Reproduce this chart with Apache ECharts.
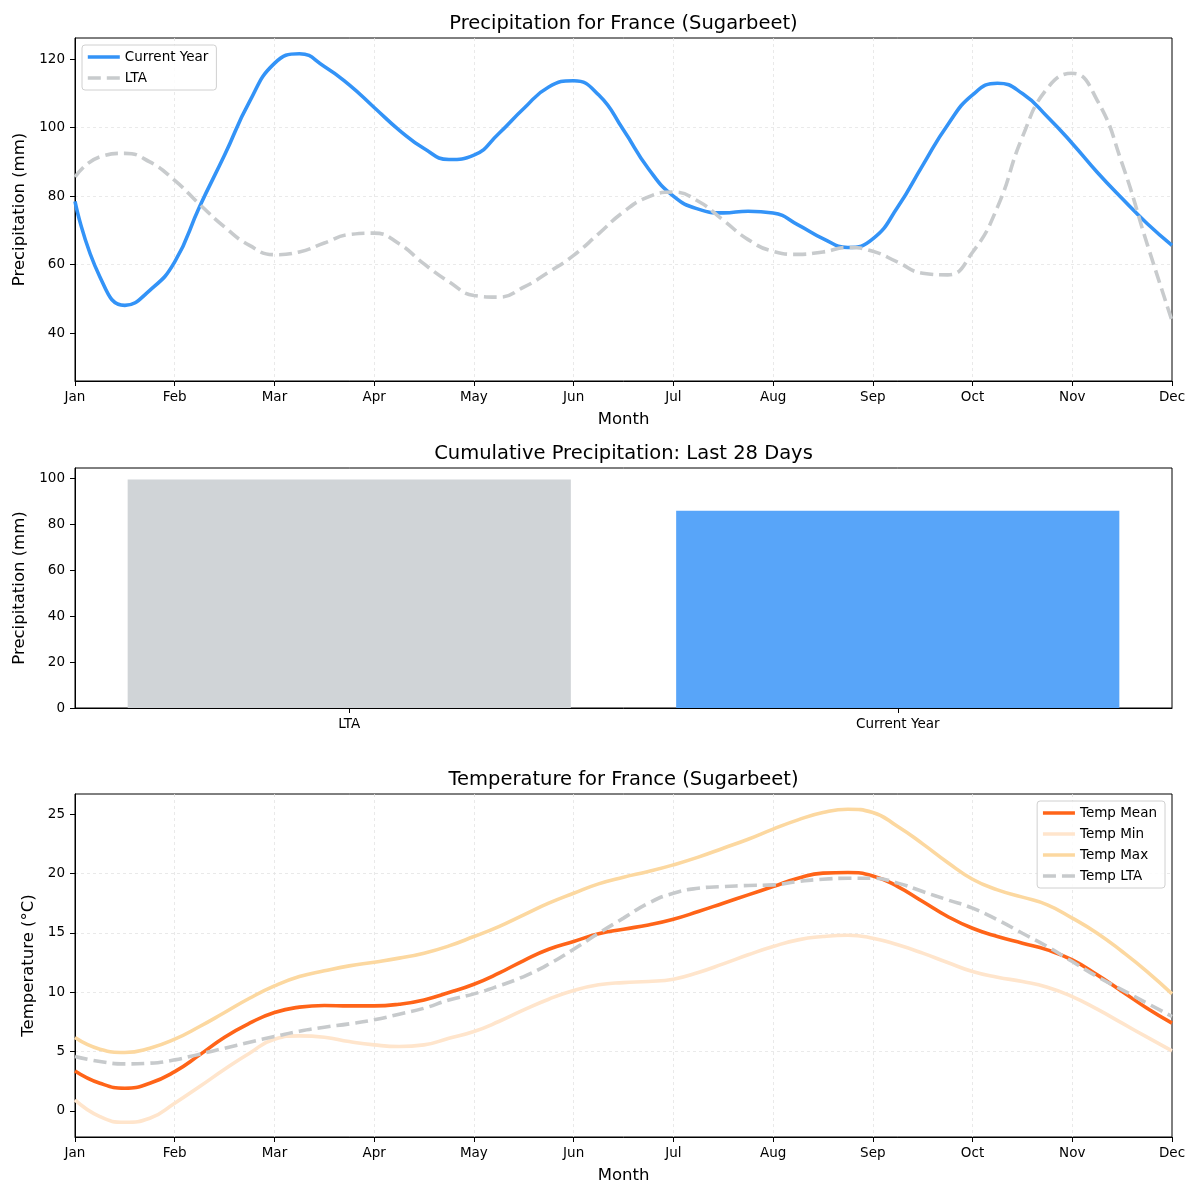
<!DOCTYPE html>
<html>
<head>
<meta charset="utf-8">
<script src="https://cdn.jsdelivr.net/npm/echarts@6/dist/echarts.min.js"></script>
<style>html,body{margin:0;padding:0;background:#fff}#c{width:1200px;height:1200px}</style>
</head>
<body>
<div id="c"></div>
<script>
const monthLabels = ['Jan','Feb','Mar','Apr','May','Jun','Jul','Aug','Sep','Oct','Nov','Dec'];

// Curves at quarter-month positions
const months = [1,1.25,1.5,1.75,2,2.25,2.5,2.75,3,3.25,3.5,3.75,4,4.25,4.5,4.75,5,5.25,5.5,5.75,6,6.25,6.5,6.75,7,7.25,7.5,7.75,8,8.25,8.5,8.75,9,9.25,9.5,9.75,10,10.25,10.5,10.75,11,11.25,11.5,11.75,12];

const precipCurrent = [78.5,56.4,48.1,52.5,60.8,77,92,107.6,118.8,121.6,117.9,112.5,105.9,99.3,93.9,90.7,92,98.3,105.6,111.9,113.7,109.6,99.3,88,80,76.2,75.1,75.6,75.1,71.6,67.6,65,67.5,76.8,89,100.8,109.6,113,110,103.2,95.4,87,79.3,72,65.6];
const precipLTA = [85.6,91.5,92.5,90,84.6,77.6,71,65.6,62.9,63.7,66.3,68.8,69.2,66.1,60.2,55,51,50.5,53.4,57.8,62.7,69,75.4,79.8,81.2,78.5,73,67.3,63.9,63,63.7,65,63.9,60.7,57.5,57,63.6,76.8,97.3,111.5,115.9,108,89.5,66.1,43.6];
const precipTicks = [40,60,80,100,120];

// Cumulative precipitation (last 28 days)
const cumCategories = ['LTA','Current Year'];
const cumValues = [99.4,85.8];
const cumTicks = [0,20,40,60,80,100];

const tempMean = [3.37,2.33,1.91,2.33,3.31,4.72,6.21,7.39,8.29,8.74,8.88,8.85,8.85,8.99,9.35,9.97,10.67,11.6,12.67,13.62,14.27,14.92,15.31,15.67,16.15,16.8,17.5,18.2,18.9,19.6,20.03,20.08,19.8,18.9,17.64,16.38,15.39,14.69,14.13,13.57,12.72,11.46,10.06,8.65,7.39];
const tempMin = [0.93,-0.48,-0.96,-0.62,0.65,2.05,3.51,4.86,6.04,6.32,6.21,5.84,5.56,5.42,5.56,6.12,6.69,7.53,8.51,9.41,10.14,10.62,10.81,10.9,11.1,11.66,12.39,13.15,13.85,14.41,14.69,14.8,14.55,13.99,13.29,12.5,11.74,11.26,10.9,10.42,9.63,8.57,7.39,6.21,5.06];
const tempMax = [6.18,5.2,4.92,5.28,6.04,7.11,8.29,9.49,10.53,11.32,11.8,12.22,12.53,12.87,13.29,13.9,14.69,15.53,16.52,17.5,18.34,19.13,19.69,20.17,20.73,21.38,22.13,22.89,23.74,24.52,25.14,25.42,25.14,23.96,22.5,20.93,19.52,18.62,18.01,17.36,16.24,14.97,13.43,11.74,9.86];
const tempLTA = [4.58,4.16,3.96,4.02,4.3,4.78,5.28,5.79,6.26,6.71,7.05,7.33,7.67,8.15,8.65,9.35,9.86,10.53,11.32,12.36,13.62,14.97,16.24,17.5,18.34,18.76,18.9,18.99,19.04,19.33,19.52,19.6,19.6,19.19,18.48,17.78,17.08,16.1,14.97,13.85,12.58,11.32,10.2,9.07,7.95];
const tempTicks = [0,5,10,15,20,25];

const FONT = 'DejaVu Sans';
const pairs = (xs, ys) => xs.map((x, i) => [x, ys[i]]);

const gridLine = {show: true, showMinLine: false, showMaxLine: false, lineStyle: {color: '#e4e4e4', width: 0.8, type: [3, 3]}};
const axisLineBlack = {show: true, onZero: false, lineStyle: {color: '#000', width: 1}};
const tickStyle = {show: true, length: 5, lineStyle: {color: '#000', width: 1}};
const labelBase = {color: '#000', fontSize: 13.5, fontFamily: FONT};

function monthAxis(gridIndex) {
  return {
    type: 'value', gridIndex, min: 1, max: 12, interval: 1,
    axisLine: axisLineBlack, axisTick: tickStyle,
    axisLabel: Object.assign({margin: 9, formatter: v => monthLabels[Math.round(v) - 1] || ''}, labelBase),
    splitLine: gridLine,
    name: 'Month', nameLocation: 'middle', nameGap: 30,
    nameTextStyle: {color: '#000', fontSize: 16.5, fontFamily: FONT}
  };
}

function valueAxis(gridIndex, min, max, ticks, name, nameGap, split) {
  return {
    type: 'value', gridIndex, min, max,
    axisLine: axisLineBlack,
    axisTick: Object.assign({customValues: ticks}, tickStyle),
    axisLabel: Object.assign({margin: 10, customValues: ticks}, labelBase),
    splitLine: split ? gridLine : {show: false},
    name, nameLocation: 'middle', nameGap,
    nameTextStyle: {color: '#000', fontSize: 16.5, fontFamily: FONT}
  };
}

const seriesColors = {
  current: '#3393f7', lta: '#c8cbcd',
  barLTA: '#d0d4d7', barCurrent: '#58a5f9',
  mean: '#ff6418', min: '#ffe5cc', max: '#fcd8a0', tlta: '#c7cacc'
};
const DASH = [13, 6];
const titleStyle = {fontFamily: FONT, fontWeight: 'normal', fontSize: 19.5, color: '#000'};
const legendBase = {
  orient: 'vertical', backgroundColor: 'rgba(255,255,255,0.85)', borderColor: '#d0d0d0', borderWidth: 1, borderRadius: 3,
  padding: [5, 8, 5, 4], itemWidth: 32, itemHeight: 14, itemGap: 7,
  itemStyle: {opacity: 0},
  lineStyle: {width: 3.6},
  textStyle: {fontFamily: FONT, fontSize: 13.5, color: '#000'}
};

function line(name, ys, color, dashed) {
  const idx = name.startsWith('Temp') ? 2 : 0;
  return {name, type: 'line', xAxisIndex: idx, yAxisIndex: idx,
    data: pairs(months, ys), smooth: 0.5, symbol: 'none', showSymbol: false, color,
    lineStyle: {width: 3.6, color, type: dashed ? DASH : 'solid'}};
}

const chart = echarts.init(document.getElementById('c'), null, {renderer: 'canvas'});
chart.setOption({
  backgroundColor: '#fff',
  animation: false,
  title: [
    {text: 'Precipitation for France (Sugarbeet)', left: 623.5, textAlign: 'center', top: 14, padding: 0, textStyle: titleStyle},
    {text: 'Cumulative Precipitation: Last 28 Days', left: 623.5, textAlign: 'center', top: 444, padding: 0, textStyle: titleStyle},
    {text: 'Temperature for France (Sugarbeet)', left: 623.5, textAlign: 'center', top: 770, padding: 0, textStyle: titleStyle}
  ],
  legend: [
    Object.assign({data: ['Current Year', 'LTA'], left: 82, top: 45}, legendBase),
    Object.assign({data: ['Temp Mean', 'Temp Min', 'Temp Max', 'Temp LTA'], right: 35, top: 801}, legendBase)
  ],
  grid: [
    {left: 75, right: 28, top: 38, height: 343, show: true, borderColor: '#000', borderWidth: 1},
    {left: 75, right: 28, top: 468, height: 240, show: true, borderColor: '#000', borderWidth: 1},
    {left: 75, right: 28, top: 794, height: 343, show: true, borderColor: '#000', borderWidth: 1}
  ],
  xAxis: [
    monthAxis(0),
    {type: 'category', gridIndex: 1, data: cumCategories,
     axisLine: axisLineBlack, axisTick: Object.assign({alignWithLabel: true}, tickStyle),
     axisLabel: Object.assign({margin: 9}, labelBase), splitLine: {show: false}},
    monthAxis(2)
  ],
  yAxis: [
    valueAxis(0, 26, 126.2, precipTicks, 'Precipitation (mm)', 42, true),
    valueAxis(1, 0, 104.4, cumTicks, 'Precipitation (mm)', 42, false),
    valueAxis(2, -2.2, 26.7, tempTicks, 'Temperature (°C)', 32, true)
  ],
  series: [
    line('Current Year', precipCurrent, seriesColors.current, false),
    line('LTA', precipLTA, seriesColors.lta, true),
    {name: 'Cumulative', type: 'bar', xAxisIndex: 1, yAxisIndex: 1, barWidth: '80.8%',
     data: cumValues.map((v, i) => ({value: v, itemStyle: {color: i === 0 ? seriesColors.barLTA : seriesColors.barCurrent}}))},
    line('Temp Mean', tempMean, seriesColors.mean, false),
    line('Temp Min', tempMin, seriesColors.min, false),
    line('Temp Max', tempMax, seriesColors.max, false),
    line('Temp LTA', tempLTA, seriesColors.tlta, true)
  ]
});
</script>
</body>
</html>
